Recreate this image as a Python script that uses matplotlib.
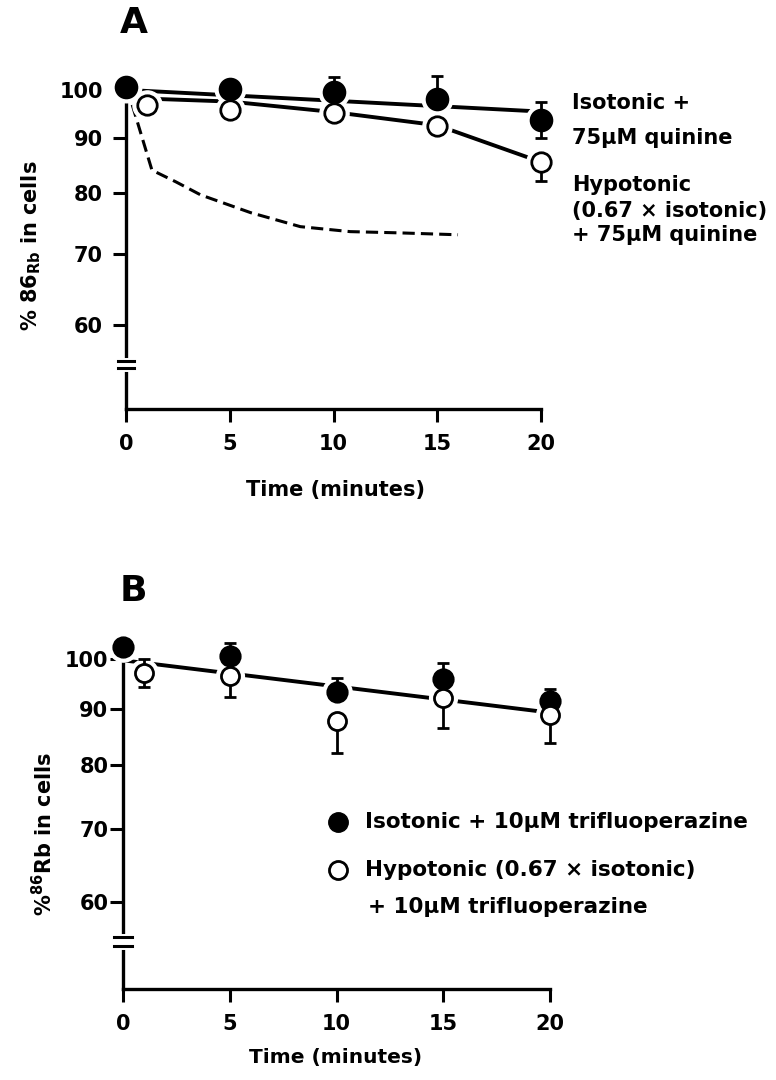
import numpy as np
import matplotlib.pyplot as plt

plt.rcParams['font.family'] = 'DejaVu Sans'
plt.rcParams['font.weight'] = 'bold'
plt.rcParams['mathtext.fontset'] = 'dejavusans'

# Panel A: 75uM quinine
a_iso_t = [0, 5, 10, 15, 20]
a_iso_y = [100.6, 100.2, 99.6, 98.1, 93.6]
a_iso_lo = [0, 0, 0, 0, 3.6]
a_iso_hi = [0, 0, 3.2, 4.9, 3.9]
a_hypo_t = [1, 5, 10, 15, 20]
a_hypo_y = [96.8, 95.7, 95.0, 92.5, 85.5]
a_hypo_lo = [0, 0, 0, 0, 3.4]
a_hypo_hi = [0, 0, 0, 0, 0]
a_iso_fit_t = [0, 20]
a_iso_fit_y = [100, 95.4]
a_hypo_fit_t = [0.5, 5, 10, 15, 20]
a_hypo_fit_y = [98.2, 97.5, 95.3, 92.6, 85.5]
a_ctrl_t = [0.3, 1.25, 2.4, 3.6, 6, 8.4, 10.8, 13.2, 16]
a_ctrl_y = [96.8, 84.0, 81.9, 79.6, 76.6, 74.3, 73.5, 73.3, 73.0]

# Panel B: 10uM trifluoperazine
b_iso_t = [0, 5, 10, 15, 20]
b_iso_y = [102.6, 100.6, 93.4, 95.9, 91.7]
b_iso_lo = [0, 0, 0, 0, 0]
b_iso_hi = [0, 2.9, 2.7, 3.3, 2.3]
b_hypo_t = [1, 5, 10, 15, 20]
b_hypo_y = [97.1, 96.5, 87.9, 92.1, 89.0]
b_hypo_lo = [2.7, 4.2, 5.8, 5.5, 5.1]
b_hypo_hi = [2.9, 0, 0, 0, 0]
b_fit_t = [0, 20]
b_fit_y = [99.8, 89.4]

x_ticks = [0, 5, 10, 15, 20]
y_ticks = [60, 70, 80, 90, 100]

W, H = 776, 1080
fig = plt.figure(figsize=(W / 100, H / 100), dpi=100)


def px_axes(left, top, width, height):
    return fig.add_axes([left / W, 1 - (top + height) / H, width / W, height / H])


def setup(ax, brk, ypad):
    ax.set_yscale('log')
    ax.set_xlim(-1.5, 21.5)
    ax.set_ylim(50, 110)
    for s in ['top', 'right']:
        ax.spines[s].set_visible(False)
    ax.spines['left'].set_position(('data', 0))
    ax.spines['left'].set_bounds(50, 100)
    ax.spines['bottom'].set_bounds(0, 20)
    for s in ['left', 'bottom']:
        ax.spines[s].set_linewidth(2.4)
    ax.set_xticks(x_ticks)
    ax.set_yticks(y_ticks)
    ax.yaxis.set_minor_locator(plt.NullLocator())
    ax.set_yticklabels([str(v) for v in y_ticks])
    ax.tick_params(axis='both', direction='out', length=9.5, width=2.2, labelsize=15)
    ax.tick_params(axis='x', pad=8.5)
    ax.tick_params(axis='y', pad=ypad)
    # axis break
    ax.plot([0, 0], [brk[0], brk[1]], color='white', lw=5, zorder=5, clip_on=False)
    for yb in brk:
        ax.plot([-0.4, 0.4], [yb, yb], color='black', lw=2.2, zorder=6, clip_on=False)


def series(ax, t, y, lo, hi, filled, ms):
    ax.plot(t, y, 'o', ms=ms + 7, color='white', mec='white', zorder=3, clip_on=False)
    ax.errorbar(t, y, yerr=[lo, hi], fmt='none', ecolor='black', elinewidth=2,
                capsize=4.5, capthick=2, zorder=3.5, clip_on=False)
    ax.plot(t, y, 'o', ms=ms, mfc='black' if filled else 'white', mec='black',
            mew=2, zorder=4, clip_on=False)


# ---- Panel A ----
axA = px_axes(126 - 1.5 * 20.75, 46, 23 * 20.75, 363)
setup(axA, [54.7, 55.5], 7)
axA.plot(a_iso_fit_t, a_iso_fit_y, color='black', lw=2.8, zorder=2, clip_on=False)
axA.plot(a_hypo_fit_t, a_hypo_fit_y, color='black', lw=2.8, zorder=2, clip_on=False)
axA.plot(a_ctrl_t, a_ctrl_y, color='black', lw=2.2, dashes=(4, 2), zorder=2, clip_on=False)
series(axA, a_iso_t, a_iso_y, a_iso_lo, a_iso_hi, True, 15)
series(axA, a_hypo_t, a_hypo_y, a_hypo_lo, a_hypo_hi, False, 14)

fig.text(134 / W, 1 - 23 / H, 'A', fontsize=26, ha='center', va='center')
fig.text(31 / W, 1 - 246 / H, r'% 86$_{\mathbf{Rb}}$ in cells', rotation=90,
         fontsize=15, ha='center', va='center')
fig.text(335 / W, 1 - 490 / H, 'Time (minutes)', fontsize=15, ha='center', va='center')
a_labels = [(103, 'Isotonic +'), (138, '75\u03bcM quinine'), (185, 'Hypotonic'),
            (211, '(0.67 \u00d7 isotonic)'), (235, '+ 75\u03bcM quinine')]
for py, s in a_labels:
    fig.text(572 / W, 1 - py / H, s, fontsize=15, ha='left', va='center')

# ---- Panel B ----
axB = px_axes(123 - 1.5 * 21.35, 989 - 375, 23 * 21.35, 375)
setup(axB, [54.7, 55.8], 1)
axB.plot(b_fit_t, b_fit_y, color='black', lw=2.8, zorder=2, clip_on=False)
series(axB, b_iso_t, b_iso_y, b_iso_lo, b_iso_hi, True, 14)
series(axB, b_hypo_t, b_hypo_y, b_hypo_lo, b_hypo_hi, False, 13)

fig.text(133 / W, 1 - 591 / H, 'B', fontsize=26, ha='center', va='center')
fig.text(44 / W, 1 - 834 / H, r'%$^{\mathbf{86}}$Rb in cells', rotation=90,
         fontsize=15, ha='center', va='center')
fig.text(336 / W, 1 - 1058 / H, 'Time (minutes)', fontsize=14.5, ha='center', va='center')

fig.lines.append(plt.Line2D([338 / W], [1 - 822 / H], marker='o', ms=14, mfc='black',
                            mec='black', transform=fig.transFigure))
fig.lines.append(plt.Line2D([338 / W], [1 - 870 / H], marker='o', ms=13, mfc='white',
                            mec='black', mew=2, transform=fig.transFigure))
fig.text(365 / W, 1 - 822 / H, 'Isotonic + 10\u03bcM trifluoperazine', fontsize=15.5,
         ha='left', va='center')
fig.text(365 / W, 1 - 870 / H, 'Hypotonic (0.67 \u00d7 isotonic)', fontsize=15.5,
         ha='left', va='center')
fig.text(368 / W, 1 - 907 / H, '+ 10\u03bcM trifluoperazine', fontsize=15.5,
         ha='left', va='center')

fig.savefig('out.png', dpi=100)
